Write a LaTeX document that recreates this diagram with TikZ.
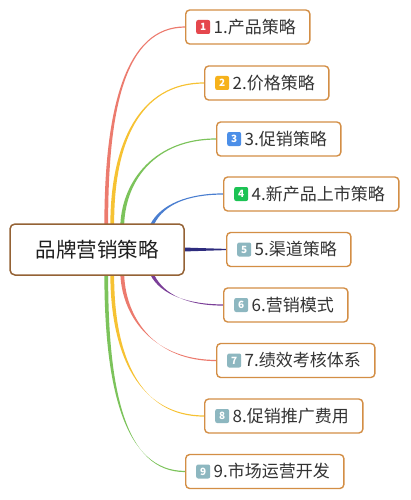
\documentclass[tikz,border=0pt]{standalone}
\usepackage{fontspec}
\setmainfont{Noto Sans CJK SC}
\usetikzlibrary{calc}
\pgfdeclarelayer{background}
\pgfsetlayers{background,main}
\definecolor{rootborder}{HTML}{946235}
\definecolor{boxborder}{HTML}{D38E45}
\definecolor{txt}{HTML}{333333}
\definecolor{bred}{HTML}{E5474D}
\definecolor{borange}{HTML}{F6B21B}
\definecolor{bblue}{HTML}{4C8FE8}
\definecolor{bgreen}{HTML}{1CC354}
\definecolor{bgrey}{HTML}{8DB7C0}
\definecolor{lred}{HTML}{EC7B6E}
\definecolor{lyellow}{HTML}{F6C233}
\definecolor{lgreen}{HTML}{7CC35B}
\definecolor{lblue}{HTML}{4A7ED0}
\definecolor{lnavy}{HTML}{2E2C7E}
\definecolor{lpurple}{HTML}{7B3F98}
\tikzset{
  rootbox/.style={draw=rootborder, line width=1.5pt, rounded corners=5pt, fill=white,
    minimum width=174pt, minimum height=51pt, inner sep=0pt, text=black!88,
    font=\fontsize{20.5}{24}\selectfont},
  childbox/.style={draw=boxborder, line width=1.4pt, rounded corners=4pt, fill=white,
    minimum height=34pt, inner ysep=0pt, inner xsep=11pt, anchor=west, text=txt,
    font=\fontsize{17}{20}\selectfont},
  badge/.style={fill=#1, rounded corners=2pt, minimum size=14pt, inner sep=0pt,
    anchor=west, text=white, font=\fontsize{10}{11}\selectfont\bfseries},
}
\newcommand\branch[5]{%
  \fill[#1] ($(#2)+(-1.9,0)$) .. controls ($(#2)+#4+(-1.7,0)$) and ($(#3)+#5+(0,-0.6)$) .. ($(#3)+(0,-0.6)$)
    -- ($(#3)+(0,0.6)$) .. controls ($(#3)+#5+(0,0.6)$) and ($(#2)+#4+(1.7,0)$) .. ($(#2)+(1.9,0)$) -- cycle;}
\begin{document}
\begin{tikzpicture}[x=1pt,y=-1pt]
\useasboundingbox (0,0) rectangle (410,500);
\node[rootbox] (root) at (97,249.5) {品牌营销策略};
\node[childbox] (c1) at (185,27) {\hspace*{17pt}1.产品策略\hspace*{3pt}};
\node[childbox] (c2) at (204,83) {\hspace*{17pt}2.价格策略\hspace*{3pt}};
\node[childbox] (c3) at (216,139) {\hspace*{17pt}3.促销策略\hspace*{3pt}};
\node[childbox] (c4) at (223,194) {\hspace*{17pt}4.新产品上市策略\hspace*{3pt}};
\node[childbox] (c5) at (226,249.5) {\hspace*{17pt}5.渠道策略\hspace*{3pt}};
\node[childbox] (c6) at (223,305) {\hspace*{17pt}6.营销模式\hspace*{3pt}};
\node[childbox] (c7) at (216,360.5) {\hspace*{17pt}7.绩效考核体系\hspace*{3pt}};
\node[childbox] (c8) at (204,416) {\hspace*{17pt}8.促销推广费用\hspace*{3pt}};
\node[childbox] (c9) at (185,471.5) {\hspace*{17pt}9.市场运营开发\hspace*{3pt}};
\node[badge=bred] (b1) at ($(c1.west)+(11,0)$) {1};
\node[badge=borange] (b2) at ($(c2.west)+(11,0)$) {2};
\node[badge=bblue] (b3) at ($(c3.west)+(11,0)$) {3};
\node[badge=bgreen] (b4) at ($(c4.west)+(11,0)$) {4};
\node[badge=bgrey] (b5) at ($(c5.west)+(11,0)$) {5};
\node[badge=bgrey] (b6) at ($(c6.west)+(11,0)$) {6};
\node[badge=bgrey] (b7) at ($(c7.west)+(11,0)$) {7};
\node[badge=bgrey] (b8) at ($(c8.west)+(11,0)$) {8};
\node[badge=bgrey] (b9) at ($(c9.west)+(11,0)$) {9};
\coordinate (s1) at ($(root.north west)+(97,1)$);
\coordinate (s2) at ($(root.north west)+(103,1)$);
\coordinate (s3) at ($(root.north west)+(113,1)$);
\coordinate (s4) at ($(root.north west)+(143,1)$);
\coordinate (s6) at ($(root.south west)+(143,-1)$);
\coordinate (s7) at ($(root.south west)+(113,-1)$);
\coordinate (s8) at ($(root.south west)+(103,-1)$);
\coordinate (s9) at ($(root.south west)+(97,-1)$);
\begin{pgfonlayer}{background}
\branch{lred}{s1}{c1.west}{(0,-115)}{(-60,0)}
\branch{lyellow}{s2}{c2.west}{(0,-80)}{(-65,0)}
\branch{lgreen}{s3}{c3.west}{(2,-45)}{(-60,0)}
\branch{lblue}{s4}{c4.west}{(10,-20)}{(-35,0)}
\fill[lnavy] ($(root.east)+(-2,-2)$) -- ($(c5.west)+(0,-0.6)$) -- ($(c5.west)+(0,0.6)$) -- ($(root.east)+(-2,2)$) -- cycle;
\branch{lpurple}{s6}{c6.west}{(10,20)}{(-35,0)}
\branch{lred}{s7}{c7.west}{(2,45)}{(-60,0)}
\branch{lyellow}{s8}{c8.west}{(0,80)}{(-65,0)}
\branch{lgreen}{s9}{c9.west}{(0,115)}{(-60,0)}
\end{pgfonlayer}
\end{tikzpicture}
\end{document}
